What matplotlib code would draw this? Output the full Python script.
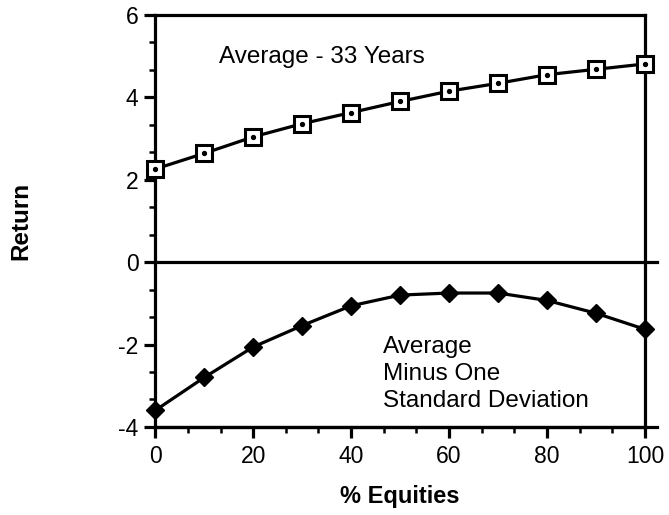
import numpy as np
import matplotlib
matplotlib.use("Agg")
import matplotlib.pyplot as plt
from matplotlib.ticker import MultipleLocator

plt.rcParams['font.family'] = ['Liberation Sans', 'DejaVu Sans']
plt.rcParams['axes.unicode_minus'] = False

# data
equities = [0, 10, 20, 30, 40, 50, 60, 70, 80, 90, 100]
avg_return = [2.26, 2.64, 3.04, 3.36, 3.63, 3.90, 4.15, 4.34, 4.55, 4.68, 4.81]
minus_sd = [-3.60, -2.80, -2.06, -1.54, -1.06, -0.80, -0.75, -0.75, -0.93, -1.24, -1.63]
x_ticks = [0, 20, 40, 60, 80, 100]
y_ticks = [-4, -2, 0, 2, 4, 6]

fig = plt.figure(figsize=(6.69, 5.15), dpi=100)
ax = fig.add_axes([0.232, 0.171, 0.732, 0.800])

lw = 2.3
# average line: open squares with a dot in the middle
ax.plot(equities, avg_return, color='black', lw=lw, marker='s', markersize=11,
        markerfacecolor='white', markeredgecolor='black', markeredgewidth=2.2,
        clip_on=False, zorder=3)
ax.plot(equities, avg_return, ls='none', marker='o', markersize=2.8,
        color='black', clip_on=False, zorder=4)

# average minus one sd: filled diamonds
ax.plot(equities, minus_sd, color='black', lw=lw, marker='D', markersize=9,
        markerfacecolor='black', markeredgecolor='black',
        clip_on=False, zorder=3)

ax.set_xlim(0, 100)
ax.set_ylim(-4, 6)
ax.set_xticks(x_ticks)
ax.set_yticks(y_ticks)
ax.xaxis.set_minor_locator(MultipleLocator(20 / 3))
ax.yaxis.set_minor_locator(MultipleLocator(2 / 3))

for s in ax.spines.values():
    s.set_linewidth(2.3)

# zero line and bottom spine run a little past the right edge
ax.axhline(0, xmin=0, xmax=1.025, color='black', lw=2.3, clip_on=False)
ax.axhline(-4, xmin=0, xmax=1.025, color='black', lw=2.3, clip_on=False)

ax.tick_params(which='major', direction='out', length=8, width=2.3,
               labelsize=16.5, pad=4)
ax.tick_params(which='minor', direction='out', length=4.5, width=1.8)
ax.tick_params(axis='x', which='major', pad=5)
ax.tick_params(top=False, right=False, which='both')

ax.text(13, 4.83, 'Average - 33 Years', fontsize=17.5, ha='left', va='baseline')
ax.text(46.5, -1.80, 'Average\nMinus One\nStandard Deviation', fontsize=17.5,
        ha='left', va='top', linespacing=1.3)

ax.set_xlabel('% Equities', fontsize=17, fontweight='bold', labelpad=12)
ax.set_ylabel('Return', fontsize=17.5, fontweight='bold', labelpad=62)

fig.savefig('out.png', dpi=100)
